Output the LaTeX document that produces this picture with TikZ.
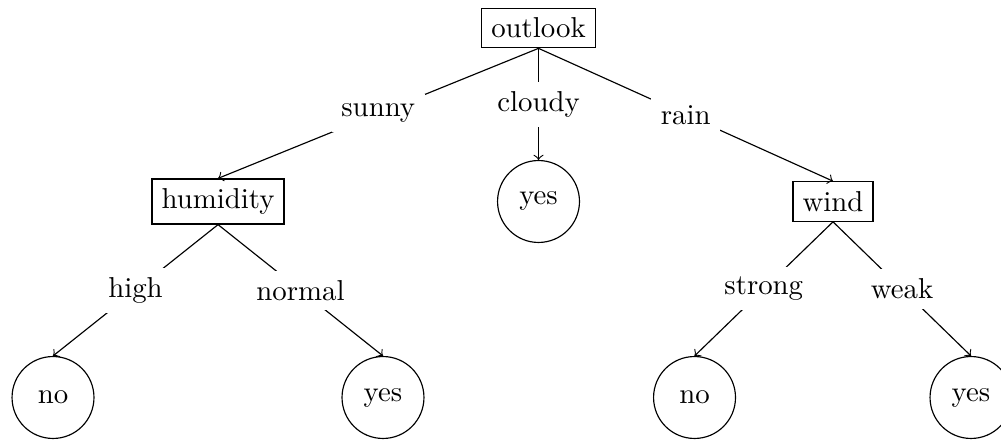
\documentclass[tikz,border=0pt]{standalone}
\usetikzlibrary{arrows}

\begin{document}
\begin{tikzpicture}[
        attr/.style={rectangle, draw},
        leaf/.style={circle, draw, minimum size=1cm},
        val/.style={fill=white}
    ]
        \useasboundingbox (-6.572,-5.016) rectangle (5.644,0.342);

        % Các nút của cây
        \node[attr] (outlook) at (0,0) {outlook};
        \node[attr] (humidity) at (-3.911,-2.117) {humidity};
        \node[leaf] (yes1) at (0,-2.117) {yes};
        \node[attr] (wind) at (3.594,-2.117) {wind};
        \node[leaf] (no1) at (-5.925,-4.509) {no};
        \node[leaf] (yes2) at (-1.898,-4.509) {yes};
        \node[leaf] (no2) at (1.904,-4.509) {no};
        \node[leaf] (yes3) at (5.278,-4.509) {yes};

        % Các cạnh có nhãn
        \draw[->] (outlook.south) -- node[val] (sunny) {sunny} (humidity.north);
        \draw[->] (outlook.south) -- node[val] (cloudy) {cloudy} (yes1.north);
        \draw[->] (outlook.south) -- node[val] (rain) {rain} (wind.north);
        \draw[->] (humidity.south) -- node[val] (high) {high} (no1.north);
        \draw[->] (humidity.south) -- node[val] (normal) {normal} (yes2.north);
        \draw[->] (wind.south) -- node[val] (strong) {strong} (no2.north);
        \draw[->] (wind.south) -- node[val] (weak) {weak} (yes3.north);
    \end{tikzpicture}
\end{document}
